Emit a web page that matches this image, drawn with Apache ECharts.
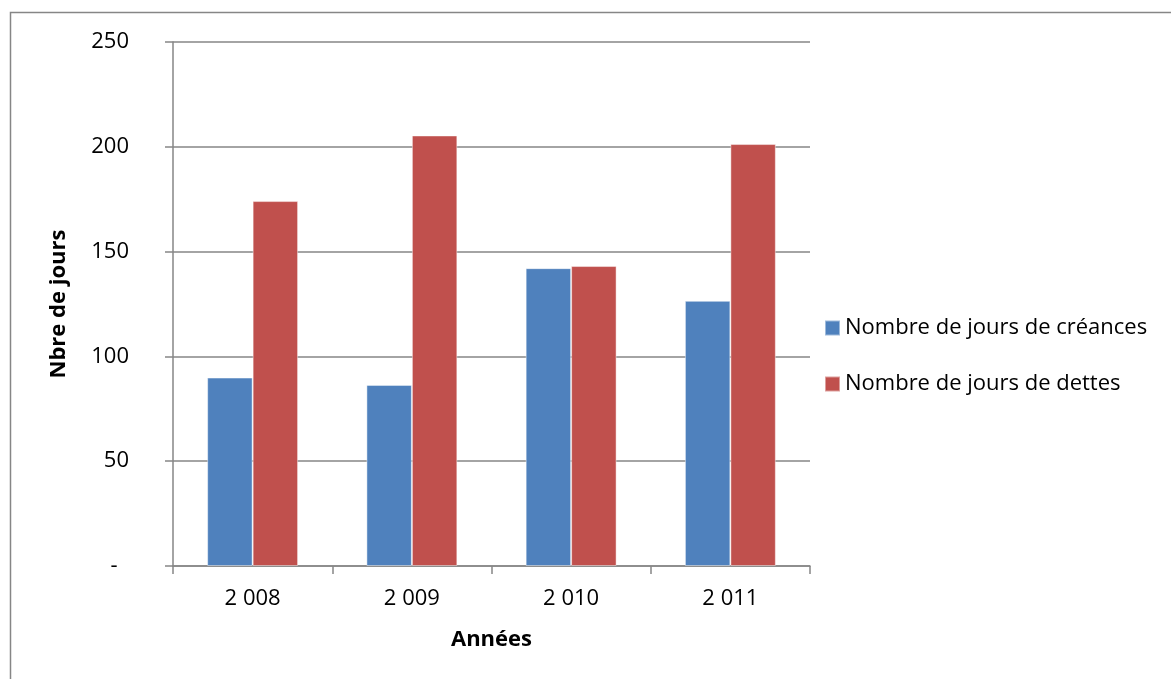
<!DOCTYPE html>
<html>
<head>
<meta charset="utf-8">
<script src="https://cdn.jsdelivr.net/npm/echarts@6/dist/echarts.min.js"></script>
<style>
  html, body { margin: 0; padding: 0; background: #fff; }
  #chart { width: 1171px; height: 679px; }
</style>
</head>
<body>
<div id="chart"></div>
<script>
// Years and day counts (receivables vs. payables)
const years = ['2 008', '2 009', '2 010', '2 011'];
const creances = [89.9, 86.4, 142.1, 126.5];
const dettes = [174.1, 205.4, 143.1, 201.3];
const seriesNames = ['Nombre de jours de créances', 'Nombre de jours de dettes'];

const FONT = '"Open Sans", "Noto Sans", sans-serif';
const FS = 22;
const chart = echarts.init(document.getElementById('chart'));

chart.setOption({
  animation: false,
  backgroundColor: '#ffffff',
  textStyle: { fontFamily: FONT, color: '#000' },
  graphic: [{
    type: 'rect',
    shape: { x: 10.5, y: 12.5, width: 1200, height: 700 },
    style: { fill: 'none', stroke: '#868686', lineWidth: 1.5 },
    silent: true
  }],
  grid: { left: 173, top: 42, width: 637, height: 524, containLabel: false },
  legend: {
    orient: 'vertical',
    left: 819,
    top: 312,
    itemWidth: 15,
    itemHeight: 15,
    itemGap: 34,
    icon: 'rect',
    textStyle: { fontFamily: FONT, fontSize: FS, color: '#000' },
    data: seriesNames
  },
  xAxis: {
    type: 'category',
    data: years,
    name: 'Années',
    nameLocation: 'middle',
    nameGap: 63,
    nameTextStyle: { fontFamily: FONT, fontSize: FS, fontWeight: 'bold', color: '#000' },
    axisLine: { lineStyle: { color: '#868686', width: 1.5 } },
    axisTick: { show: true, length: 8, alignWithLabel: false, lineStyle: { color: '#868686', width: 1.5 } },
    axisLabel: { fontFamily: FONT, fontSize: FS, color: '#000', margin: 22 }
  },
  yAxis: {
    type: 'value',
    min: 0,
    max: 250,
    interval: 50,
    name: 'Nbre de jours',
    nameLocation: 'middle',
    nameGap: 103,
    nameRotate: 90,
    nameTextStyle: { fontFamily: FONT, fontSize: FS, fontWeight: 'bold', color: '#000' },
    axisLine: { show: true, lineStyle: { color: '#868686', width: 1.5 } },
    axisTick: { show: true, length: 8, lineStyle: { color: '#868686', width: 1.5 } },
    axisLabel: {
      fontFamily: FONT, fontSize: FS, color: '#000', margin: 44,
      // accounting-style zero: a dash padded away from the axis
      formatter: v => (v === 0 ? '-  ' : String(v))
    },
    splitLine: { show: true, lineStyle: { color: '#868686', width: 1.5 } }
  },
  series: [
    {
      name: seriesNames[0],
      type: 'bar',
      data: creances,
      barGap: '0%',
      barCategoryGap: '42.9%',
      itemStyle: { color: '#4F81BD', borderColor: 'rgba(255,255,255,0.45)', borderWidth: 1 }
    },
    {
      name: seriesNames[1],
      type: 'bar',
      data: dettes,
      barGap: '0%',
      barCategoryGap: '42.9%',
      itemStyle: { color: '#C0504D', borderColor: 'rgba(255,255,255,0.45)', borderWidth: 1 }
    }
  ]
});
</script>
</body>
</html>
